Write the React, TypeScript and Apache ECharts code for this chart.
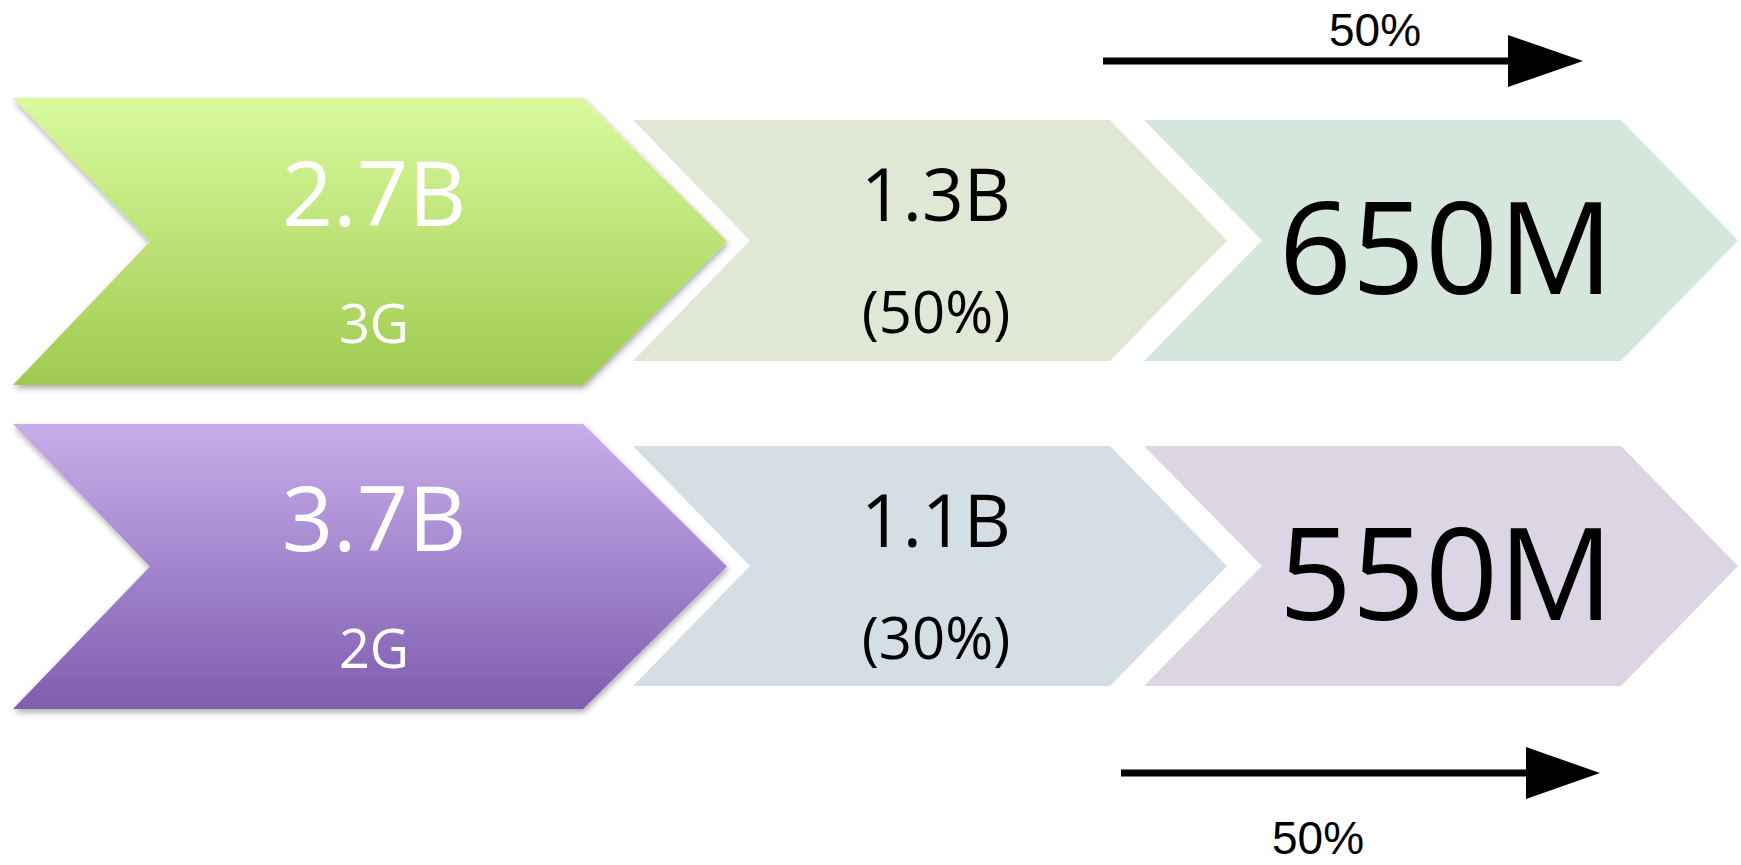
import React, { useEffect, useRef } from "react";
import * as echarts from "echarts";

// ---- data ----
const generations = ["3G", "2G"];
const totals = ["2.7B", "3.7B"];
const middleValues = ["1.3B", "1.1B"];
const middleShares = ["(50%)", "(30%)"];
const finalValues = ["650M", "550M"];
const arrowLabels = ["50%", "50%"];

// ---- styles ----
const leadGradients = [
  ["#d9fa9e", "#9fca4f"],
  ["#c7aeea", "#7f5db0"],
];
const midColors = ["#e1e7d5", "#d3dee5"];
const endColors = ["#d5e6dd", "#dcd6e4"];

function chevron(left: number, top: number, bottom: number, notch: number, corner: number, tip: number) {
  const cy = (top + bottom) / 2;
  return [
    [left, top],
    [corner, top],
    [tip, cy],
    [corner, bottom],
    [left, bottom],
    [notch, cy],
  ];
}

export default function App() {
  const ref = useRef<HTMLDivElement>(null);
  useEffect(() => {
    document.body.style.margin = "0";
    const chart = echarts.init(ref.current!, undefined, { renderer: "svg" });
    const font = "'Open Sans', 'Noto Sans', sans-serif";
    const elements: any[] = [];
    const rowGeom = [
      { aTop: 98, aBot: 385, bTop: 120, bBot: 361 },
      { aTop: 424, aBot: 709, bTop: 446, bBot: 686 },
    ];
    rowGeom.forEach((g, i) => {
      const cyA = (g.aTop + g.aBot) / 2;
      const cyB = (g.bTop + g.bBot) / 2;
      // lead chevron
      elements.push({
        type: "polygon",
        shape: { points: chevron(13, g.aTop, g.aBot, 150, 583, 727) },
        style: {
          fill: new echarts.graphic.LinearGradient(0, 0, 0, 1, [
            { offset: 0, color: leadGradients[i][0] },
            { offset: 1, color: leadGradients[i][1] },
          ]),
          shadowBlur: 6,
          shadowOffsetX: 1,
          shadowOffsetY: 3,
          shadowColor: "rgba(0,0,0,0.35)",
        },
      });
      // middle chevron
      elements.push({
        type: "polygon",
        shape: { points: chevron(633, g.bTop, g.bBot, 750, 1110, 1227) },
        style: { fill: midColors[i] },
      });
      // end chevron
      elements.push({
        type: "polygon",
        shape: { points: chevron(1144, g.bTop, g.bBot, 1262, 1621, 1738) },
        style: { fill: endColors[i] },
      });
      // texts
      elements.push({
        type: "text",
        x: 374,
        y: cyA - 51,
        style: { text: totals[i], fill: "#ffffff", font: `90px ${font}`, align: "center", verticalAlign: "middle" },
      });
      elements.push({
        type: "text",
        x: 374,
        y: cyA + 80,
        style: { text: generations[i], fill: "#ffffff", font: `54px ${font}`, align: "center", verticalAlign: "middle" },
      });
      elements.push({
        type: "text",
        x: 936,
        y: cyB - 48,
        style: { text: middleValues[i], fill: "#000000", font: `73px ${font}`, align: "center", verticalAlign: "middle" },
      });
      elements.push({
        type: "text",
        x: 936,
        y: cyB + 70,
        style: { text: middleShares[i], fill: "#000000", font: `58px ${font}`, align: "center", verticalAlign: "middle" },
      });
      elements.push({
        type: "text",
        x: 1446,
        y: cyB + 4,
        style: { text: finalValues[i], fill: "#000000", font: `128px ${font}`, align: "center", verticalAlign: "middle" },
      });
    });

    // arrows
    const arrows = [
      { x0: 1103, x1: 1508, tip: 1583, y: 61, half: 26, labelX: 1375, labelY: 30 },
      { x0: 1121, x1: 1526, tip: 1600, y: 773, half: 26, labelX: 1318, labelY: 838 },
    ];
    arrows.forEach((a, i) => {
      elements.push({
        type: "line",
        shape: { x1: a.x0, y1: a.y, x2: a.x1 + 2, y2: a.y },
        style: { stroke: "#000000", lineWidth: 7 },
      });
      elements.push({
        type: "polygon",
        shape: {
          points: [
            [a.x1, a.y - a.half],
            [a.tip, a.y],
            [a.x1, a.y + a.half],
          ],
        },
        style: { fill: "#000000" },
      });
      elements.push({
        type: "text",
        x: a.labelX,
        y: a.labelY,
        style: {
          text: arrowLabels[i],
          fill: "#000000",
          font: "46px 'Liberation Sans', Arial, sans-serif",
          align: "center",
          verticalAlign: "middle",
        },
      });
    });

    chart.setOption({
      animation: false,
      backgroundColor: "#ffffff",
      graphic: { elements },
    });
    return () => chart.dispose();
  }, []);
  return <div ref={ref} style={{ width: 1741, height: 865 }} />;
}
